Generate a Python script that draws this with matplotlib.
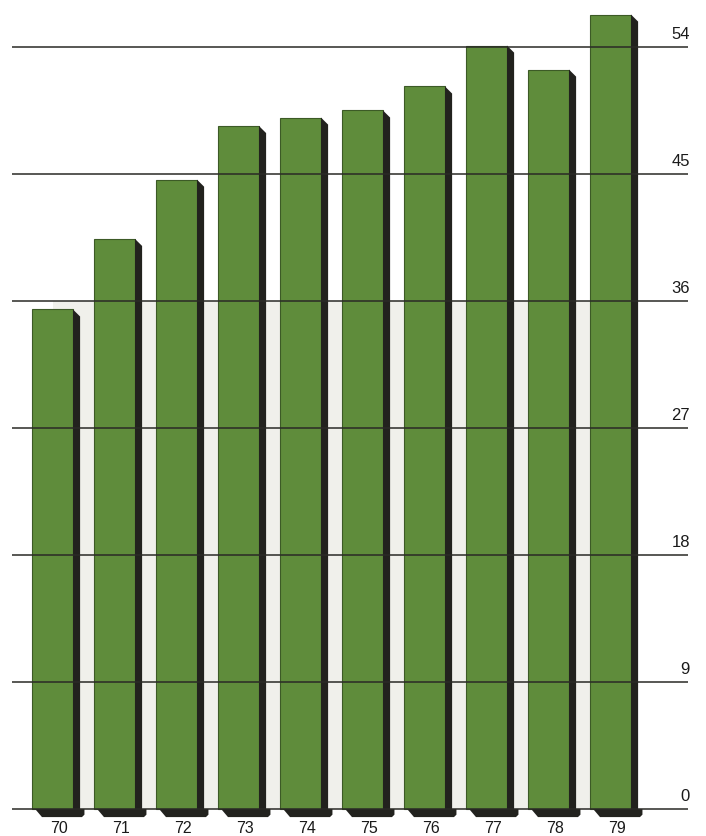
import numpy as np
import matplotlib.pyplot as plt
from matplotlib.patches import Polygon, Rectangle

# -------------------------------------------------------
# Datos
# -------------------------------------------------------

ANIOS = ["70", "71", "72", "73", "74", "75", "76", "77", "78", "79"]

VALORES = [35.4, 40.4, 44.6, 48.4, 49.0, 49.5, 51.2, 54.1, 52.4, 56.3]

MARCAS = [0, 9, 18, 27, 36, 45, 54]

# -------------------------------------------------------
# Estilo
# -------------------------------------------------------

VERDE = "#5f8c3b"
OSCURO = "#22221e"
FONDO_HUECOS = "#f0f0eb"
LINEA = "#2a2a26"

ANCHO = 0.66      # cara frontal
LADO = 0.115      # cara lateral
BISEL = 0.5       # caida del lateral (en unidades de y)
SOMBRA = 0.57     # alto de la sombra bajo la barra


def barra_3d(ax, x, altura):

    izq = x - ANCHO / 2
    der = x + ANCHO / 2

    ax.add_patch(Rectangle((izq, 0), ANCHO, altura,
                           facecolor=VERDE, edgecolor="#3c5a26",
                           linewidth=0.8, zorder=3))

    lateral = [
        (der, altura),
        (der + LADO, altura - BISEL),
        (der + LADO, -SOMBRA * 0.6),
        (der, -SOMBRA * 0.6),
    ]
    ax.add_patch(Polygon(lateral, closed=True, facecolor=OSCURO,
                         edgecolor="none", zorder=3))

    sombra = [
        (izq + 0.05, 0),
        (izq + 0.16, -SOMBRA),
        (der + LADO + 0.03, -SOMBRA),
        (der + LADO + 0.07, -SOMBRA * 0.7),
        (der + LADO + 0.07, 0),
    ]
    ax.add_patch(Polygon(sombra, closed=True, facecolor=OSCURO,
                         edgecolor="none", zorder=3))


def ejecutar():

    fig = plt.figure(figsize=(7.06, 8.37), dpi=100)
    ax = fig.add_axes([0, 0, 1, 1])

    x = np.arange(len(ANIOS))

    ax.set_xlim(-0.847, 10.54)
    ax.set_ylim(-1.91, 57.40)
    ax.axis("off")

    # fondo claro entre las barras
    ax.add_patch(Rectangle((x[0], 0), x[-1] - x[0], 36,
                           facecolor=FONDO_HUECOS, edgecolor="none",
                           zorder=1))

    for xi, v in zip(x, VALORES):
        barra_3d(ax, xi, v)

    # lineas de referencia por encima de las barras
    x_ini = -0.65
    x_fin = 10.25
    for m in MARCAS:
        ax.plot([x_ini, x_fin], [m, m], color=LINEA, linewidth=1.1,
                solid_capstyle="butt", zorder=4)
        ax.text(10.28, m + 0.42, str(m), ha="right", va="bottom",
                fontsize=12, family="Liberation Sans", color="#1a1a1a",
                zorder=5)

    for xi, etiqueta in zip(x, ANIOS):
        ax.text(xi + 0.1, -1.87, etiqueta, ha="center", va="bottom",
                fontsize=11.5, family="Liberation Sans", color="#1a1a1a")

    plt.savefig("out.png", dpi=100, facecolor="white")
    plt.close()


if __name__ == "__main__":

    ejecutar()
